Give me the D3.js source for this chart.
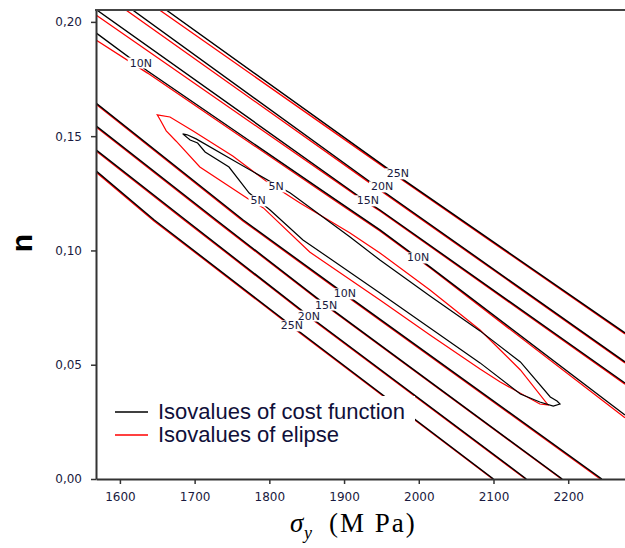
<!DOCTYPE html>
<html><head><meta charset="utf-8">
<script src="https://cdn.jsdelivr.net/npm/d3@7"></script>
<style>body{margin:0;background:#fff}svg{display:block}</style>
</head><body>
<svg id="c" width="625" height="548"></svg>
<script>
// ---- axes ----
const xTicks = [1600, 1700, 1800, 1900, 2000, 2100, 2200];
const yTicks = [0, 0.05, 0.10, 0.15, 0.20];
const xDomain = [1568, 2276];
const yDomain = [0, 0.2052];

// ---- isovalues of cost function (black) : [sigma_y, n] ----
const cost5N = [[1684,0.1510],[1690,0.1506],[1702,0.1488],[1751,0.1396],[1828,0.1251],[1908,0.1059],[1948,0.0958],[2015,0.0801],[2082,0.0648],[2136,0.0512],[2176,0.0359],[2185,0.0341],[2189,0.0328],[2180,0.0319],[2162,0.0337],[2136,0.0372],[2082,0.0508],[2015,0.0661],[1948,0.0814],[1845,0.1046],[1801,0.1177],[1773,0.1251],[1746,0.1365],[1714,0.1431],[1704,0.1470],[1694,0.1483]];
const cost10NUp  = [[1568,0.1952],[1637,0.1785],[1889,0.1221],[1948,0.1090],[2015,0.0928],[2276,0.0280]];
const cost15NUp  = [[1569,0.2052],[1921,0.1234],[1948,0.1177],[2276,0.0420]];
const cost20NUp  = [[1617,0.2052],[1948,0.1269],[2276,0.0512]];
const cost25NUp  = [[1662,0.2052],[1972,0.1326],[2276,0.0639]];
const cost10NLow = [[1568,0.1645],[1765,0.1133],[1901,0.0810],[2245,0]];
const cost15NLow = [[1568,0.1545],[1729,0.1133],[1876,0.0761],[2192,0]];
const cost20NLow = [[1568,0.1440],[1688,0.1133],[1853,0.0713],[2144,0]];
const cost25NLow = [[1568,0.1348],[1646,0.1133],[1832,0.0665],[2100,0]];

// ---- isovalues of ellipse (red) ----
const ell5N = [[1650,0.1593],[1667,0.1584],[1698,0.1523],[1751,0.1413],[1797,0.1300],[1841,0.1208],[1908,0.1076],[1948,0.0989],[2015,0.0827],[2082,0.0652],[2136,0.0477],[2173,0.0324],[2162,0.0328],[2109,0.0424],[2082,0.0481],[2015,0.0630],[1948,0.0783],[1854,0.0993],[1792,0.1186],[1774,0.1221],[1707,0.1365],[1675,0.1479],[1662,0.1523],[1654,0.1571]];
const ell10NUp  = [[1568,0.1921],[1637,0.1776],[1889,0.1215],[1948,0.1085],[2015,0.0924],[2276,0.0268]];
const ell15NUp  = [[1568,0.2030],[1921,0.1230],[1948,0.1173],[2276,0.0415]];
const ell20NUp  = [[1608,0.2052],[1948,0.1264],[2276,0.0508]];
const ell25NUp  = [[1653,0.2052],[1972,0.1322],[2276,0.0635]];
const ell10NLow = [[1568,0.1640],[1765,0.1128],[1901,0.0805],[2243,0]];
const ell15NLow = [[1568,0.1540],[1729,0.1128],[1876,0.0757],[2191,0]];
const ell20NLow = [[1568,0.1435],[1688,0.1128],[1853,0.0709],[2143,0]];
const ell25NLow = [[1568,0.1343],[1646,0.1128],[1832,0.0661],[2099,0]];

// ---- contour labels ----
const labelText = ["10N","10N","15N","20N","25N","5N","5N","10N","15N","20N","25N"];
const labelX = [1628,1999,1932,1951,1972,1809,1785,1901,1876,1853,1830];
const labelY = [0.1820,0.0967,0.1217,0.1278,0.1335,0.1278,0.1217,0.0810,0.0761,0.0713,0.0670];

// ---- legend ----
const legendNames = ["Isovalues of cost function", "Isovalues of elipse"];
const legendColors = ["#000000", "#ff0000"];

const costOpen = [cost10NUp,cost15NUp,cost20NUp,cost25NUp,cost10NLow,cost15NLow,cost20NLow,cost25NLow];
const ellOpen = [ell10NUp,ell15NUp,ell20NUp,ell25NUp,ell10NLow,ell15NLow,ell20NLow,ell25NLow];

const L = 96, R = 625, T = 10, B = 479;
const x = d3.scaleLinear().domain(xDomain).range([L, R]);
const y = d3.scaleLinear().domain(yDomain).range([B, T]);
const svg = d3.select("#c");

svg.append("defs").append("clipPath").attr("id","clip")
  .append("rect").attr("x",L).attr("y",T).attr("width",R-L).attr("height",B-T);

const line = d3.line().x(d=>x(d[0])).y(d=>y(d[1]));
const lineClosed = d3.line().x(d=>x(d[0])).y(d=>y(d[1])).curve(d3.curveLinearClosed);

const g = svg.append("g").attr("clip-path","url(#clip)");
ellOpen.forEach(l => g.append("path").attr("d", line(l)).attr("fill","none").attr("stroke","#ff0000").attr("stroke-width",1.3));
g.append("path").attr("d", lineClosed(ell5N)).attr("fill","none").attr("stroke","#ff0000").attr("stroke-width",1.2);
costOpen.forEach(l => g.append("path").attr("d", line(l)).attr("fill","none").attr("stroke","#000").attr("stroke-width",1.4));
g.append("path").attr("d", lineClosed(cost5N)).attr("fill","none").attr("stroke","#000").attr("stroke-width",1.2);

// labels with white background to break lines
labelText.forEach((t,i) => {
  const lg = svg.append("g");
  const txt = lg.append("text").attr("x", x(labelX[i])).attr("y", y(labelY[i]))
    .attr("text-anchor","middle").attr("dominant-baseline","central")
    .attr("font-family","DejaVu Sans").attr("font-size",11).attr("fill","#1a1a40").text(t);
  const bb = txt.node().getBBox();
  lg.insert("rect","text").attr("x",bb.x-2).attr("y",bb.y+1).attr("width",bb.width+4).attr("height",bb.height-2).attr("fill","#fff");
});

// legend
const leg = svg.append("g");
leg.append("rect").attr("x",100).attr("y",396).attr("width",315).attr("height",56).attr("fill","#fff");
legendNames.forEach((n,i) => {
  const yy = 412 + i*23;
  leg.append("line").attr("x1",115).attr("x2",148).attr("y1",yy).attr("y2",yy).attr("stroke",legendColors[i]).attr("stroke-width",1.5);
  leg.append("text").attr("x",158).attr("y",yy+6.5).attr("font-family","Liberation Sans, Arial").attr("font-size",22).attr("fill","#10103a").text(n);
});

// axes
const ax = svg.append("g").attr("transform",`translate(0,${B})`)
  .call(d3.axisBottom(x).tickValues(xTicks).tickSize(5).tickSizeOuter(0).tickPadding(8).tickFormat(d3.format("d")));
const ay = svg.append("g").attr("transform",`translate(${L},0)`)
  .call(d3.axisLeft(y).tickValues(yTicks).tickSize(5).tickSizeOuter(0).tickPadding(9).tickFormat(d => d.toFixed(2).replace(".", ",")));
[ax, ay].forEach(a => {
  a.select(".domain").attr("stroke","#333").attr("stroke-width",2);
  a.selectAll(".tick line").attr("stroke","#333").attr("stroke-width",1.5);
  a.selectAll("text").attr("font-family","DejaVu Sans").attr("font-size",12).attr("fill","#1a1a40");
});
// top frame
svg.append("line").attr("x1",L-1).attr("x2",R).attr("y1",T).attr("y2",T).attr("stroke","#444").attr("stroke-width",2);

// y title
svg.append("text").attr("transform","translate(32,243) rotate(-90)").attr("text-anchor","middle")
  .attr("font-family","Liberation Sans, Arial").attr("font-weight","bold").attr("font-size",30).text("n");

// x title
svg.append("text").attr("x",290).attr("y",532).attr("font-family","Liberation Serif").attr("font-style","italic").attr("font-size",27).text("σ");
svg.append("text").attr("x",304).attr("y",539).attr("font-family","Liberation Serif").attr("font-style","italic").attr("font-size",18).text("y");
svg.append("text").attr("x",329).attr("y",532).attr("font-family","Liberation Serif").attr("font-size",27)
  .attr("letter-spacing",2).text("(M Pa)");
</script>
</body></html>
